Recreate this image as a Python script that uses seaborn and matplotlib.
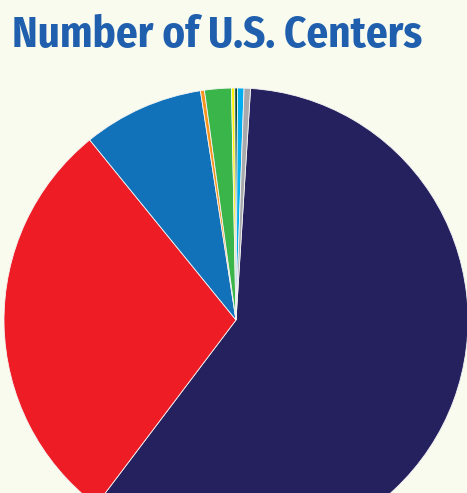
import matplotlib
matplotlib.use("Agg")
import matplotlib.pyplot as plt
import seaborn as sns

# approximate share of centers by group
groups = ["A", "B", "C", "D", "E", "F", "G", "H", "I"]
centers = [213, 103.6, 30.2, 1.0, 6.7, 0.8, 0.7, 1.6, 1.6]
colors = ["#24215E", "#EE1C25", "#1172BA", "#F7941D", "#3AB54A",
          "#FFF200", "#0B4D2C", "#00AEEF", "#A7A9AC"]
title = "Number of U.S. Centers"

sns.set_theme(style="white")
bg = "#F9FBEF"

W, H = 467, 493
cx, cy, r = 236, 320, 232

fig = plt.figure(figsize=(W / 100, H / 100), dpi=100, facecolor=bg)
ax = fig.add_axes([0, 0, 1, 1])
ax.set_facecolor(bg)

ax.pie(centers, colors=sns.color_palette(colors), startangle=86.4,
       counterclock=False, radius=1,
       wedgeprops=dict(edgecolor="#f4f4f4", linewidth=0.6))

ax.set_aspect("auto")
ax.set_xlim(-cx / r, (W - cx) / r)
ax.set_ylim(-(H - cy) / r, cy / r)
ax.axis("off")

t = fig.text(12 / W, 1 - 47 / H, title, color="#1F5FAD",
             fontsize=31, fontweight="bold", fontstretch="condensed",
             family=["Fira Sans Condensed", "DejaVu Sans"],
             ha="left", va="baseline")
# shrink the title so it spans roughly x=12..422 like the reference
renderer = fig.canvas.get_renderer()
w = t.get_window_extent(renderer).width
if w > 410:
    t.set_fontsize(31 * 410 / w)

fig.savefig("out.png", dpi=100, facecolor=bg)
